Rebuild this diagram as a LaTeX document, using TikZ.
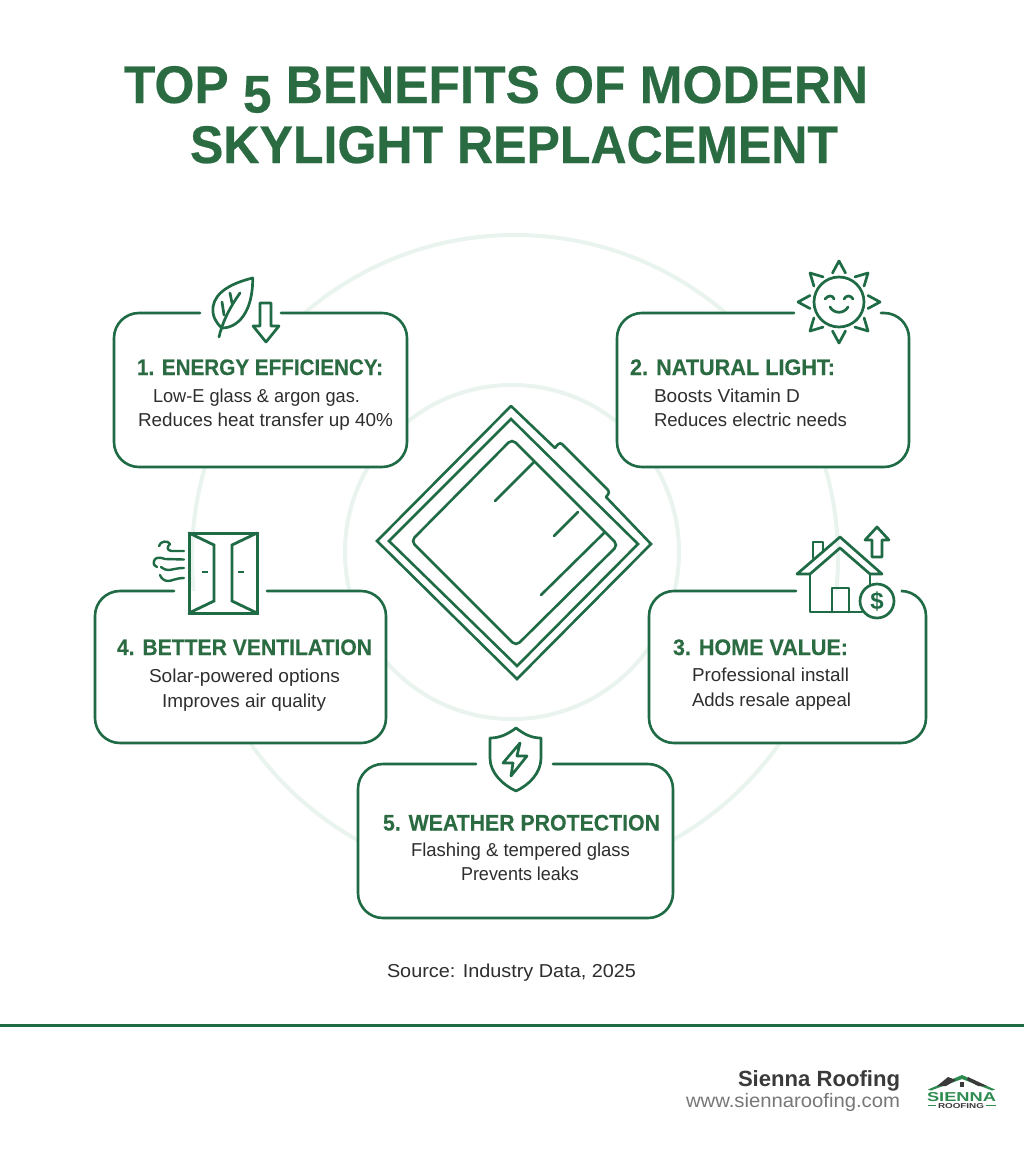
\documentclass[tikz,border=0pt]{standalone}
\usepackage{fontspec}
\usepackage{graphicx}
\setmainfont{Liberation Sans}
\definecolor{brand}{HTML}{1F6B45}
\definecolor{titlegreen}{HTML}{2A6B42}
\definecolor{ringc}{HTML}{EAF4EF}
\definecolor{bodyc}{HTML}{2E2E2E}
\definecolor{darkc}{HTML}{3A3A3A}
\definecolor{greyc}{HTML}{777777}
\definecolor{logog}{HTML}{2E8B50}
\newcommand{\fitw}[2]{\resizebox{#1pt}{\height}{\fontsize{18.7}{22}\selectfont #2}}
\newcommand{\fitb}[2]{\resizebox{#1pt}{\height}{\fontsize{22.5}{26}\selectfont\bfseries\addfontfeature{FakeBold=0.25}#2}}
\newcommand{\fitt}[2]{\resizebox{#1pt}{\height}{\fontsize{53}{60}\selectfont\bfseries\addfontfeature{FakeBold=0.4}#2}}
\newcommand{\cardframe}[6]{%
  \fill[white,rounded corners=25pt] (#1,#2) rectangle (#3,#4);
  \draw[cardline] (#6,#2) -- (#3,#2) -- (#3,#4) -- (#1,#4) -- (#1,#2) -- (#5,#2);}
\tikzset{
  x=1pt,y=-1pt,
  txt/.style={anchor=base west,inner sep=0pt,outer sep=0pt},
  cardline/.style={draw=brand,line width=2.6pt,rounded corners=25pt,line cap=round},
  ring/.style={draw=ringc,line width=4pt},
  icon/.style={draw=brand,line width=2.7pt,line join=round,line cap=round},
  glass/.style={draw=brand,line width=2.6pt,line join=miter,line cap=round},
  head/.style={txt,text=titlegreen},
  bodytxt/.style={txt,text=bodyc},
}
\begin{document}
\begin{tikzpicture}
\useasboundingbox (0,0) rectangle (1024,1154);
\fill[white] (0,0) rectangle (1024,1154);
% rings
\draw[ring] (515,558) circle (323);
\draw[ring] (512,552) circle (167);
% title
\node[head] (t1) at (124,103) {\fitt{744}{TOP \raisebox{-9.5pt}{5} BENEFITS OF MODERN}};
\node[head] (t2) at (190,163) {\fitt{648}{SKYLIGHT REPLACEMENT}};
% cards
\cardframe{114}{313}{407}{467}{200}{281}
\cardframe{617}{313}{909}{467}{794}{881}
\cardframe{95}{591}{386}{743}{174}{267}
\cardframe{649}{591}{926}{743}{796}{902}
\cardframe{358}{764}{673}{918}{476}{553}
% card texts
\node[head] (h1) at (137,375) {\fitb{246}{1. ENERGY EFFICIENCY:}};
\node[bodytxt] (b1a) at (153,402) {\fitw{207}{Low-E glass \& argon gas.}};
\node[bodytxt] (b1b) at (138,426) {\fitw{255}{Reduces heat transfer up 40\%}};
\node[head] (h2) at (630,375) {\fitb{205}{2. NATURAL LIGHT:}};
\node[bodytxt] (b2a) at (654,402) {\fitw{146}{Boosts Vitamin D}};
\node[bodytxt] (b2b) at (654,426) {\fitw{193}{Reduces electric needs}};
\node[head] (h3) at (673,655) {\fitb{175}{3. HOME VALUE:}};
\node[bodytxt] (b3a) at (692,681.5) {\fitw{157}{Professional install}};
\node[bodytxt] (b3b) at (692,706) {\fitw{159}{Adds resale appeal}};
\node[head] (h4) at (117,655) {\fitb{255}{4. BETTER VENTILATION}};
\node[bodytxt] (b4a) at (149,682) {\fitw{191}{Solar-powered options}};
\node[bodytxt] (b4b) at (162,707) {\fitw{164}{Improves air quality}};
\node[head] (h5) at (383,830.5) {\fitb{277}{5. WEATHER PROTECTION}};
\node[bodytxt] (b5a) at (411,856) {\fitw{219}{Flashing \& tempered glass}};
\node[bodytxt] (b5b) at (461,880) {\fitw{118}{Prevents leaks}};
\node[bodytxt] (src) at (387,977) {\fitw{249}{Source: Industry Data, 2025}};
% leaf and arrow
\draw[icon] (252.7,278) .. controls (232,283) and (215,292) .. (213,307)
  .. controls (212,316) and (216,323) .. (222,328)
  .. controls (238,328) and (253,312) .. (252.7,278) -- cycle;
\draw[icon] (219,337) .. controls (222,324) and (228,310) .. (240,293);
\draw[icon] (232,303) -- (230,293);
\draw[icon] (224,315) -- (222,302);
\draw[icon] (260,303) -- (271,303) -- (271,326) -- (279,326) -- (266,342) -- (253,326) -- (260,326) -- cycle;
% sun
\draw[icon,fill=white] (839,302) circle (25);
\foreach \a in {0,45,...,315}{
  \draw[icon,rotate around={\a:(839,302)}] (832.5,273) -- (839,261) -- (845.5,273);
}
\draw[icon] (825,299) .. controls (828,295) and (833,295) .. (834,299);
\draw[icon] (844,299) .. controls (846,295) and (851,295) .. (853,299);
\draw[icon] (830,307) .. controls (834,314) and (844,314) .. (848,307);
% door with wind
\draw[icon,line width=3pt,line cap=butt,line join=miter] (189,533) rectangle (257,613);
\draw[icon,line width=2.8pt,line join=miter] (189,533) -- (214,545) -- (214,601) -- (189,613);
\draw[icon,line width=2.8pt,line join=miter] (257,533) -- (232,545) -- (232,601) -- (257,613);
\draw[icon,line width=2.4pt,line cap=butt] (202,572) -- (208,572);
\draw[icon,line width=2.4pt,line cap=butt] (238,572) -- (244,572);
\draw[icon,line width=2.4pt] (184,551) -- (172,551) .. controls (165,550) and (168,546) .. (170,544) .. controls (168,540) and (160,541) .. (159,546);
\draw[icon,line width=2.4pt] (184,559.5) -- (165,559) .. controls (160,557) and (155,557) .. (154,561) .. controls (153,565) and (155,566) .. (157,567);
\draw[icon,line width=2.4pt] (184,568) .. controls (176,568) and (172,570) .. (168,570) .. controls (166,570) and (163,569) .. (161,567);
\draw[icon,line width=2.4pt] (184,578) .. controls (176,578) and (172,581) .. (168,581) .. controls (164,581) and (161,578) .. (160,575);
% house
\draw[icon] (813,558) -- (813,542) -- (823,542) -- (823,552);
\draw[icon] (840,537) -- (882,574) -- (870,574) -- (840,548) -- (810,574) -- (797,574) -- cycle;
\draw[icon] (810,574) -- (810,612) -- (862,612);
\draw[icon] (870,574) -- (870,585);
\draw[icon] (832,612) -- (832,588) -- (849,588) -- (849,612);
\draw[icon] (877,527) -- (889,540) -- (882,540) -- (882,557) -- (872,557) -- (872,540) -- (865,540) -- cycle;
\node[circle,draw=brand,line width=2.7pt,fill=white,minimum size=34pt,inner sep=0pt,text=brand,font=\fontsize{24}{26}\selectfont\bfseries] (dollar) at (877,601) {\$};
% shield
\draw[icon] (516,728) .. controls (508,734) and (500,738) .. (490,738)
  -- (490,758) .. controls (490,773) and (503,785) .. (516,791)
  .. controls (529,785) and (541,773) .. (541,758) -- (541,738)
  .. controls (531,738) and (524,734) .. (516,728) -- cycle;
\draw[icon] (520,743) -- (503,763) -- (513,763) -- (511,776) -- (527,756) -- (517,756) -- cycle;
% skylight
\draw[glass] (511,406) -- (555,448);
\draw[glass] (606,497) -- (651,544) -- (517,679) -- (377,541) -- (511,406);
\draw[glass] (511,419) -- (638,544) -- (517,666) -- (389,541) -- cycle;
\draw[glass,rounded corners=5pt] (512,439) -- (618,545) -- (516,646) -- (411,541) -- cycle;
\draw[glass,rounded corners=3pt] (555,448) -- (560,442) -- (610,492) -- (606,497);
\draw[glass] (534,462) -- (495,501);
\draw[glass] (578,512) -- (554,536);
\draw[glass] (605,532) -- (541,595);
% footer
\draw[draw=brand,line width=3pt] (0,1025.5) -- (1024,1025.5);
\node[txt,text=darkc] (brandname) at (738,1086) {\resizebox{162pt}{\height}{\fontsize{22}{26}\selectfont\bfseries Sienna Roofing}};
\node[txt,text=greyc] (brandurl) at (686,1107) {\resizebox{214pt}{\height}{\fontsize{19.5}{24}\selectfont www.siennaroofing.com}};
% logo
\fill[logog] (928,1089.5) -- (962,1075) -- (995,1089.5) -- (992,1090.5) -- (962,1079) -- (931,1090.5) -- cycle;
\fill[darkc] (937,1086) -- (948,1077) -- (956,1080) -- (946,1086) -- cycle;
\fill[darkc] (987,1086) -- (968,1077) -- (967,1080) -- (978,1086) -- cycle;
\fill[darkc] (960,1082) rectangle (964,1087);
\node[txt,text=logog] (logoa) at (927,1101) {\resizebox{69pt}{9pt}{\bfseries SIENNA}};
\node[txt,text=darkc] (logob) at (938,1108) {\resizebox{46pt}{5pt}{\bfseries ROOFING}};
\draw[draw=logog,line width=0.8pt] (928,1105.5) -- (936,1105.5);
\draw[draw=logog,line width=0.8pt] (986,1105.5) -- (996,1105.5);
\end{tikzpicture}
\end{document}
